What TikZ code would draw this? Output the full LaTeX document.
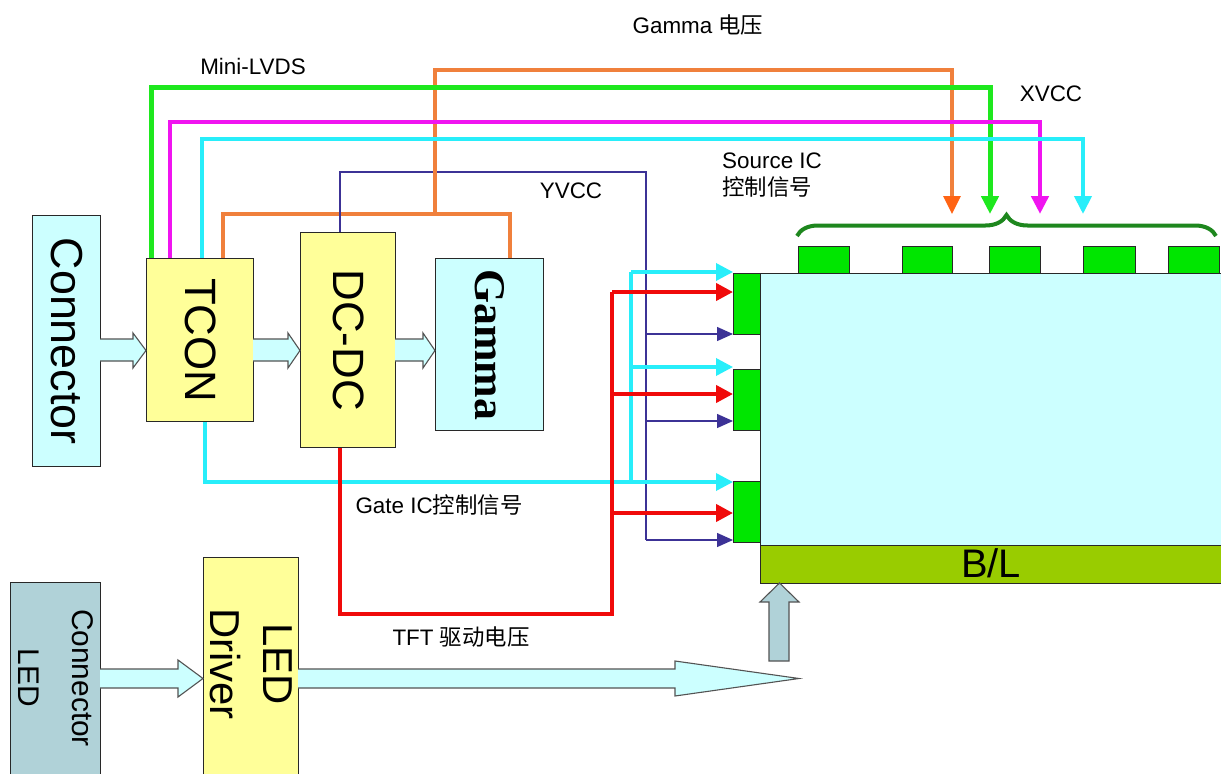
\documentclass[tikz,border=0pt]{standalone}
\usepackage{fontspec}
\setmainfont{Liberation Sans}
\newfontfamily\cjk{Noto Sans CJK SC}
\newfontfamily\serifb{Liberation Serif}
\usetikzlibrary{arrows.meta,calc,decorations.pathreplacing}
\definecolor{lcyan}{RGB}{204,255,255}
\definecolor{lyellow}{RGB}{255,255,153}
\definecolor{steel}{RGB}{176,210,216}
\definecolor{gline}{RGB}{30,232,30}
\definecolor{gfill}{RGB}{0,230,0}
\definecolor{mag}{RGB}{240,20,240}
\definecolor{cyl}{RGB}{40,238,250}
\definecolor{orl}{RGB}{240,128,60}
\definecolor{orh}{RGB}{255,100,20}
\definecolor{redl}{RGB}{240,10,10}
\definecolor{purp}{RGB}{60,50,150}
\definecolor{dkgreen}{RGB}{30,135,30}
\definecolor{olive}{RGB}{153,204,0}
\definecolor{edge}{RGB}{40,40,40}
\begin{document}
\begin{tikzpicture}[x=1bp,y=-1bp,
  box/.style={draw=edge,line width=1.3bp,inner sep=0pt,anchor=north west},
  big/.style={font=\fontsize{44}{50}\selectfont,rotate=-90},
  lab/.style={font=\fontsize{22.5}{27}\selectfont,inner sep=0pt},
  barrow/.style={draw=edge!80,fill=lcyan,line width=1.1bp,line join=miter},
  tri/.style={-{Triangle[length=17bp,width=17bp]}},
  trid/.style={-{Triangle[length=18bp,width=17bp]}},
  trip/.style={-{Triangle[length=16bp,width=14bp]}},
  wgreen/.style={draw=gline,line width=5bp},
  wmag/.style={draw=mag,line width=4.5bp},
  wcyan/.style={draw=cyl,line width=4bp},
  worange/.style={draw=orl,line width=3.2bp},
  wpurp/.style={draw=purp,line width=1.4bp},
  wred/.style={draw=redl,line width=4bp},
  wcyan2/.style={draw=cyl,line width=3.5bp}]
\useasboundingbox (0,0) rectangle (1221,774);
\fill[white] (0,0) rectangle (1221,774);

% ---- blocks
\node[box,fill=lcyan,minimum width=68bp,minimum height=251bp] (conn) at (32,215) {};
\node[box,fill=lyellow,minimum width=107bp,minimum height=163bp] (tcon) at (146,258) {};
\node[box,fill=lyellow,minimum width=95bp,minimum height=215bp] (dcdc) at (300,232) {};
\node[box,fill=lcyan,minimum width=108bp,minimum height=172bp] (gam) at (435,258) {};
\node[big,font=\fontsize{45}{50}\selectfont] (conntxt) at (conn.center) {Connector};
\node[big] (tcontxt) at (tcon.center) {TCON};
\node[big] (dcdctxt) at (dcdc.center) {DC-DC};
\node[big,font=\fontsize{44}{50}\serifb\bfseries] (gamtxt) at (gam.center) {Gamma};

\node[box,fill=steel,minimum width=90bp,minimum height=200bp] (ledc) at (10,582) {};
\node[box,fill=lyellow,minimum width=95bp,minimum height=222bp] (ledd) at (203,557) {};
\node[rotate=-90,align=center,font=\fontsize{30}{54}\selectfont] (ledctxt) at (56,678) {Connector\\LED};
\node[rotate=-90,align=center,font=\fontsize{42}{53}\selectfont] (leddtxt) at (251,664) {LED\\Driver};

% ---- panel
\node[box,fill=lcyan,minimum width=462bp,minimum height=272bp] (panel) at (760,273) {};
\node[box,fill=olive,minimum width=462bp,minimum height=38bp] (bl) at (760,545) {};
\node[font=\fontsize{40}{44}\selectfont,inner sep=0pt] (bltxt) at (991,563) {B/L};
\node[box,fill=gfill,minimum width=27bp,minimum height=61bp] (g1) at (733,273) {};
\node[box,fill=gfill,minimum width=27bp,minimum height=61bp] (g2) at (733,369) {};
\node[box,fill=gfill,minimum width=27bp,minimum height=61bp] (g3) at (733,481) {};
\node[box,fill=gfill,minimum width=51bp,minimum height=27bp] (s1) at (798,246) {};
\node[box,fill=gfill,minimum width=50bp,minimum height=27bp] (s2) at (902,246) {};
\node[box,fill=gfill,minimum width=51bp,minimum height=27bp] (s3) at (989,246) {};
\node[box,fill=gfill,minimum width=52bp,minimum height=27bp] (s4) at (1083,246) {};
\node[box,fill=gfill,minimum width=51bp,minimum height=27bp] (s5) at (1168,246) {};
\draw[draw=dkgreen,line width=4bp,decorate,decoration={brace,amplitude=21bp,aspect=0.5}] (797,236) -- (1216,236);

% ---- block arrows
\draw[barrow] (100,339) -- (133,339) -- (133,333) -- (146,350.5) -- (133,368) -- (133,361) -- (100,361);
\draw[barrow] (253,339) -- (288,339) -- (288,333) -- (300,350.5) -- (288,368) -- (288,361) -- (253,361);
\draw[barrow] (395,339) -- (423,339) -- (423,333) -- (435,350.5) -- (423,368) -- (423,361) -- (395,361);
\draw[barrow] (100,669) -- (178,669) -- (178,660) -- (203,678.5) -- (178,697) -- (178,688) -- (100,688);
\draw[barrow] (298,669) -- (675,669) -- (675,661) -- (799,678.5) -- (675,696) -- (675,688) -- (298,688);
\draw[barrow,fill=steel] (769,661) -- (769,602) -- (760,602) -- (779.5,583) -- (799,602) -- (789,602) -- (789,661) -- cycle;

% ---- coordinates
\coordinate (oJ) at (435,214);
\coordinate (oEnd) at (952,214);
\coordinate (gEnd) at (990,214);
\coordinate (mEnd) at (1040,214);
\coordinate (cEnd) at (1083,214);
\coordinate (pV) at (646,540);
\coordinate (cV) at (631,482);
\coordinate (rB) at (612,614);
\coordinate (rT) at (612,292);
\coordinate (c1) at (733,272);
\coordinate (c2) at (733,367);
\coordinate (c3) at (733,482);
\coordinate (r1) at (733,292);
\coordinate (r2) at (733,394);
\coordinate (r3) at (733,513);
\coordinate (p1) at (733,334);
\coordinate (p2) at (733,421);
\coordinate (p3) at (733,540);

% ---- top signal lines
\draw[worange] ($(tcon.north west)+(77,0)$) -- ++(0,-44) -| ($(gam.north west)+(75,0)$);
\draw[wpurp] ($(dcdc.north west)+(40,0)$) -- ++(0,-60) -| (pV);
\draw[worange] (oJ) -- ++(0,-144) -| ($(oEnd)+(0,-10)$);
\draw[draw=orh,line width=3.2bp,trid] ($(oEnd)+(0,-12)$) -- (oEnd);
\draw[wgreen,trid] ($(tcon.north west)+(5,0)$) -- ++(0,-170) -| (gEnd);
\draw[wmag,trid] ($(tcon.north west)+(24,0)$) -- ++(0,-136) -| (mEnd);
\draw[wcyan,trid] ($(tcon.north west)+(56,0)$) -- ++(0,-119) -| (cEnd);

% ---- gate side
\draw[wpurp,trip] (pV |- p1) -- (p1);
\draw[wpurp,trip] (pV |- p2) -- (p2);
\draw[wpurp,trip] (pV) -- (p3);
\draw[wcyan2,tri] ($(tcon.south west)+(59,0)$) |- (c3);
\draw[wcyan2] (cV) -- (cV |- c1);
\draw[wcyan2,tri] (cV |- c1) -- (c1);
\draw[wcyan2,tri] (cV |- c2) -- (c2);
\draw[wred] ($(dcdc.south west)+(40,0)$) |- (rB) -- (rT);
\draw[wred,tri] (rT) -- (r1);
\draw[wred,tri] (rB |- r2) -- (r2);
\draw[wred,tri] (rB |- r3) -- (r3);

% ---- labels
\node[lab] (lvds) at (253,66) {Mini-LVDS};
\node[lab] (gv) at (698,25) {Gamma {\cjk 电压}};
\node[lab] (yv) at (571,191) {YVCC};
\node[lab,anchor=west,align=left] (src) at (722,175) {Source IC\\{\cjk 控制信号}};
\node[lab] (xv) at (1051,94) {XVCC};
\node[lab] (gate) at (439,505) {Gate IC{\cjk 控制信号}};
\node[lab] (tft) at (461,637) {TFT {\cjk 驱动电压}};
\end{tikzpicture}
\end{document}
